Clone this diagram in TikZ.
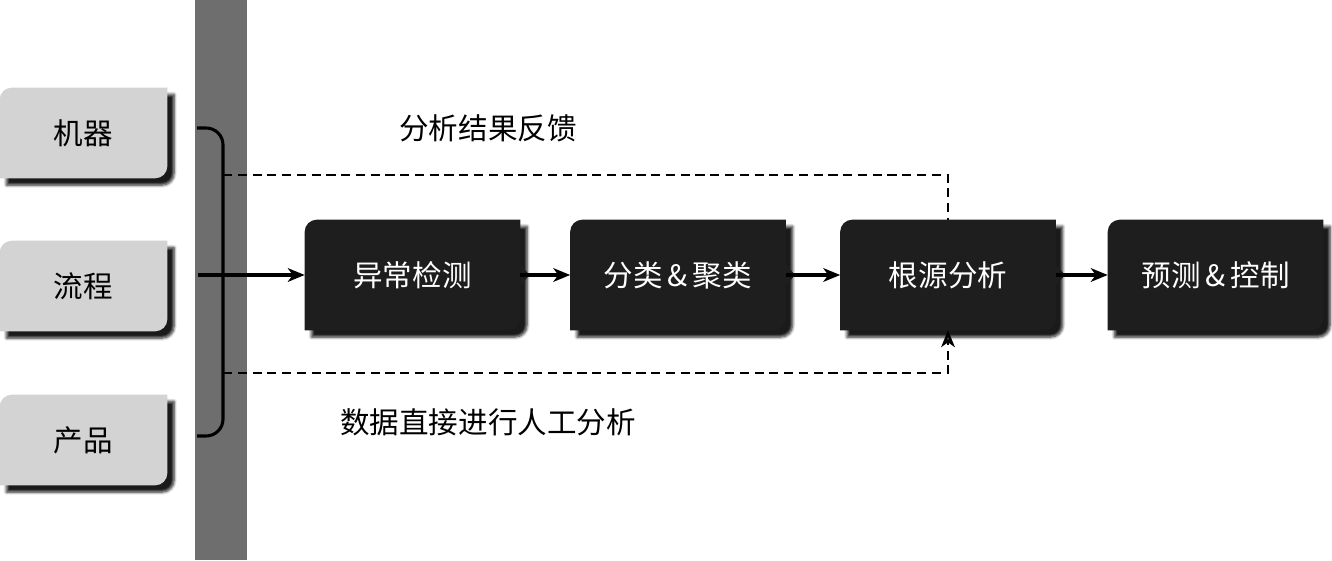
\documentclass[tikz,border=0pt]{standalone}
\usepackage{fontspec}
\newfontfamily\cjkfont{Noto Sans CJK SC}
\usepackage{tikz}
\usetikzlibrary{arrows.meta}
\usetikzlibrary{calc}
\usetikzlibrary{shadows.blur}
\pgfdeclarelayer{background}
\pgfsetlayers{background,main}
\definecolor{barGray}{HTML}{6E6E6E}
\definecolor{boxDark}{HTML}{1E1E1E}
\definecolor{boxLight}{HTML}{D3D3D3}
\newcommand{\boxshape}[2]{%
  \begin{pgfonlayer}{background}
    \fill[#2, blur shadow={shadow xshift=0.17cm, shadow yshift=-0.17cm, shadow opacity=90, shadow blur radius=0.07cm, shadow blur steps=6}]
      (#1.north east) -- ($(#1.south east)+(0,12)$) arc[start angle=0,end angle=-90,radius=12]
      -- (#1.south west) -- ($(#1.north west)-(0,12)$) arc[start angle=180,end angle=90,radius=12] -- cycle;
  \end{pgfonlayer}}
\newcommand{\boxtab}[1]{%
  \begin{pgfonlayer}{background}
    \fill[boxDark] ($(#1.east)+(0,11)$) -- ($(#1.east)+(9,0)$) -- ($(#1.east)+(0,-11)$) -- cycle;
  \end{pgfonlayer}}
\tikzset{
dark box node/.style={shape=rectangle, minimum width=5.375cm, minimum height=2.75cm, inner sep=0, text=white},
light box node/.style={shape=rectangle, minimum width=4.175cm, minimum height=2.25cm, inner sep=0, text=black},
%
flow tip/.style={-{Stealth[length=0.42cm,width=0.34cm,inset=0.12cm]}},
flow line/.style={line width=2.2pt,flow tip},
feedback line/.style={line width=1.8pt,dash pattern=on 6.5pt off 4pt},
bracket line/.style={line width=2.2pt,rounded corners=12},
}

\begin{document}
\begin{tikzpicture}[x=0.025cm,y=0.025cm,every node/.style={font=\cjkfont\fontsize{21}{25}\selectfont}]
        \useasboundingbox (0,0) rectangle (1332,560);
        \begin{pgfonlayer}{background}
            \fill[barGray] (195,0) rectangle (247,560);
        \end{pgfonlayer}
        \foreach \n/\h/\t in {machine/427/机器,process/274/流程,product/120/产品}  {
            \node[light box node] (\n) at (83.5,\h) {\t};
            \boxshape{\n}{boxLight}
        }
        \foreach \n/\x/\t in {detect/412.5/异常检测,cluster/678/{分类\,\&\,聚类},rootcause/948/根源分析,predict/1215.5/{预测\,\&\,控制}}  {
            \node[dark box node] (\n) at (\x,285) {\t};
            \boxshape{\n}{boxDark}
        }
        \boxtab{detect}
        \boxtab{cluster}
        \boxtab{rootcause}
        \coordinate (brtop) at (197,432);
        \coordinate (brmid) at (223,285);
        \coordinate (brbot) at (197,124);
        \coordinate (brin) at (198,285);
        \coordinate (fbstart) at (223,385);
        \coordinate (mstart) at (223,187);
        \draw[bracket line] (brtop) -| (brmid) |- (brbot) ;
        \draw[flow line] (brin) -- (detect) ;
        \draw[flow line] (detect) -- (cluster) ;
        \draw[flow line] (cluster) -- (rootcause) ;
        \draw[flow line] (rootcause) -- (predict) ;
        \draw[feedback line] (fbstart) -| (rootcause.north) ;
        \draw[feedback line,flow tip] (mstart) -| (rootcause.south) ;
        \node (feedbacktext) at (488,432) {分析结果反馈};
        \node (manualtext) at (488,138) {数据直接进行人工分析};
    \end{tikzpicture}
\end{document}
